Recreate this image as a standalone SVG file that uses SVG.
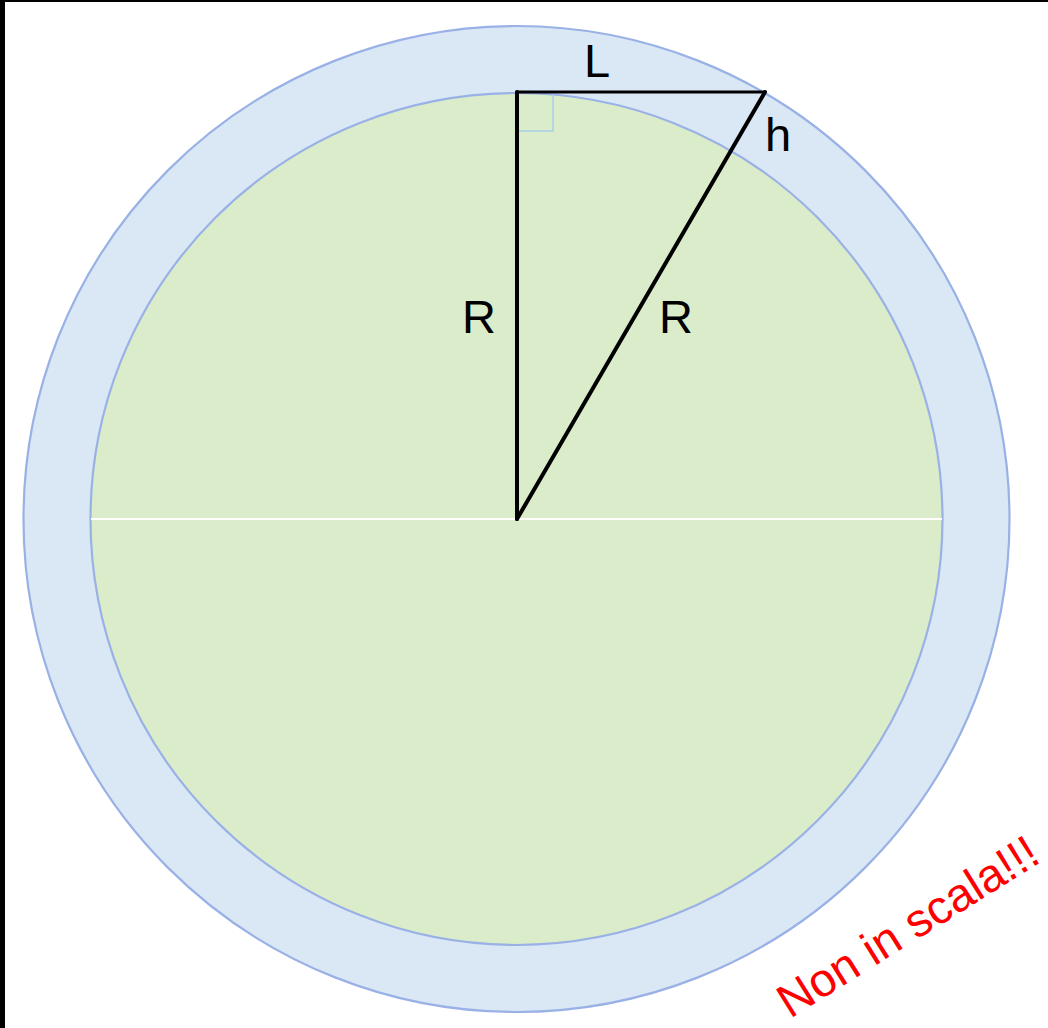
<svg xmlns="http://www.w3.org/2000/svg" width="1048" height="1028" viewBox="0 0 1048 1028">
<style>
.ring{stroke:#9ab1e6;stroke-width:2.2}
.lbl{font-family:"Liberation Sans",Arial,sans-serif;fill:#000}
.seg{stroke:#000;stroke-linecap:round;fill:none}
</style>
<rect x="0" y="0" width="1048" height="1028" fill="#000"/>
<rect x="5" y="2" width="1043" height="1026" fill="#fff"/>
<g id="outer-circle"><circle class="ring" cx="516.5" cy="519" r="493" fill="#dae8f6"/></g>
<g id="inner-circle"><circle class="ring" cx="516.5" cy="519" r="426" fill="#dbecca"/>
<line x1="91" y1="519" x2="942" y2="519" stroke="#fff" stroke-width="2"/></g>
<g id="right-angle"><polyline points="517,131 553,131 553,93" fill="none" stroke="#a9cfe6" stroke-width="1.5"/></g>
<g id="connectors">
<line class="seg" x1="517" y1="92" x2="517" y2="519" stroke-width="4"/>
<line class="seg" x1="517" y1="92" x2="765" y2="92" stroke-width="3"/>
<line class="seg" x1="765" y1="92" x2="517" y2="519" stroke-width="4"/>
</g>
<g id="labels">
<text class="lbl" x="584" y="77" font-size="47">L</text>
<text class="lbl" x="765" y="151" font-size="47">h</text>
<text class="lbl" x="462" y="333" font-size="47">R</text>
<text class="lbl" x="659" y="333" font-size="47">R</text>
</g>
<g id="note"><text transform="translate(790,1019) rotate(-32)" font-family="Liberation Sans,Arial,sans-serif" font-size="47" fill="#ff0000">Non in scala!!!</text></g>
</svg>
